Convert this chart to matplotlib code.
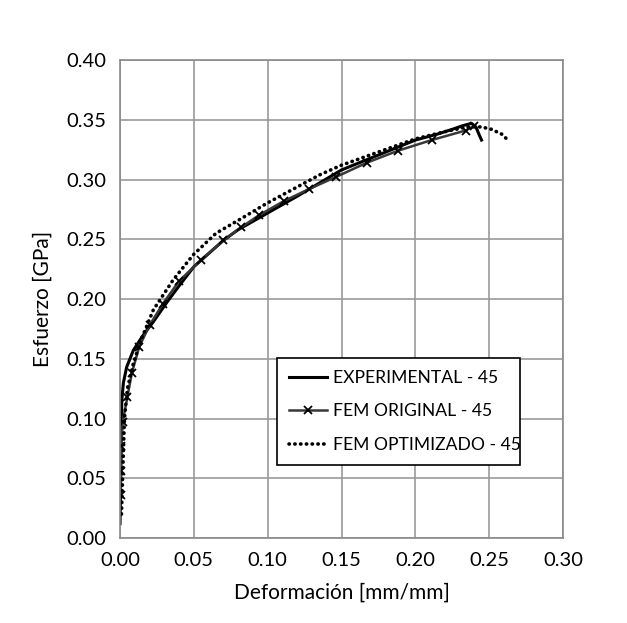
import matplotlib.pyplot as plt

plt.rcParams['font.family'] = ['Lato', 'DejaVu Sans']

# EXPERIMENTAL - 45
exp_x = [0.0, 0.0005, 0.001, 0.0012, 0.0023, 0.0045, 0.009, 0.0158, 0.0226, 0.0316,
         0.040, 0.050, 0.060, 0.070, 0.080, 0.100, 0.120, 0.135, 0.150, 0.170,
         0.190, 0.200, 0.215, 0.225, 0.232, 0.238, 0.241, 0.243, 0.2448]
exp_y = [0.012, 0.050, 0.090, 0.115, 0.130, 0.143, 0.157, 0.170, 0.181, 0.197,
         0.211, 0.227, 0.238, 0.249, 0.258, 0.272, 0.286, 0.297, 0.308, 0.318,
         0.328, 0.333, 0.338, 0.342, 0.345, 0.347, 0.344, 0.338, 0.333]

# FEM ORIGINAL - 45
fem_x = [0.0005, 0.0005, 0.001, 0.0018, 0.005, 0.008, 0.013, 0.020, 0.029, 0.040,
         0.055, 0.070, 0.082, 0.094, 0.111, 0.128, 0.146, 0.167, 0.188, 0.211,
         0.234, 0.240]
fem_y = [0.036, 0.0565, 0.077, 0.097, 0.118, 0.138, 0.160, 0.178, 0.196, 0.215,
         0.233, 0.249, 0.260, 0.270, 0.282, 0.292, 0.302, 0.314, 0.324, 0.333,
         0.341, 0.345]

# FEM OPTIMIZADO - 45
opt_x = [0.001, 0.002, 0.003, 0.005, 0.009, 0.014, 0.0226, 0.036, 0.0496, 0.065,
         0.081, 0.0993, 0.1354, 0.150, 0.175, 0.200, 0.220, 0.235, 0.245, 0.248,
         0.2516, 0.255, 0.2584, 0.2614]
opt_y = [0.020, 0.060, 0.100, 0.125, 0.146, 0.165, 0.191, 0.216, 0.237, 0.255,
         0.2665, 0.280, 0.304, 0.312, 0.323, 0.334, 0.340, 0.344, 0.344, 0.343,
         0.342, 0.340, 0.338, 0.3345]

fig = plt.figure(figsize=(6.27, 6.23), dpi=100)
ax = fig.add_axes([0.1914, 0.1364, 0.7066, 0.7673])

ax.plot(exp_x, exp_y, color='black', lw=2.2, label='EXPERIMENTAL - 45')
ax.plot(fem_x, fem_y, color='#383838', lw=1.8, marker='x', ms=6, mew=1.3,
        mec='black', label='FEM ORIGINAL - 45')
ax.plot(opt_x, opt_y, color='black', lw=2.6, linestyle=(0, (0.1, 1.5)),
        dash_capstyle='round', label='FEM OPTIMIZADO - 45')

ax.set_xlim(0, 0.30)
ax.set_ylim(0, 0.40)
ax.set_xticks([0.00, 0.05, 0.10, 0.15, 0.20, 0.25, 0.30])
ax.set_yticks([0.00, 0.05, 0.10, 0.15, 0.20, 0.25, 0.30, 0.35, 0.40])
ax.set_xticklabels(['%.2f' % v for v in ax.get_xticks()])
ax.set_yticklabels(['%.2f' % v for v in ax.get_yticks()])
ax.tick_params(length=0, labelsize=14.5, pad=10)
ax.grid(True, color='#9a9a9a', lw=1.2)
ax.set_axisbelow(True)
for s in ax.spines.values():
    s.set_color('#8a8a8a')
    s.set_linewidth(1.2)

ax.set_xlabel('Deformación [mm/mm]', fontsize=15, labelpad=10)
ax.set_ylabel('Esfuerzo [GPa]', fontsize=15, labelpad=10)

leg = ax.legend(loc='lower left', bbox_to_anchor=(0.334, 0.134, 0.589, 0.243),
                mode='expand', fancybox=False, edgecolor='black', fontsize=12.6,
                labelspacing=1.0, handlelength=2.2, handletextpad=0.3,
                borderpad=0.7, framealpha=1)
leg.get_frame().set_linewidth(1.2)

fig.savefig('out.png', dpi=100)
